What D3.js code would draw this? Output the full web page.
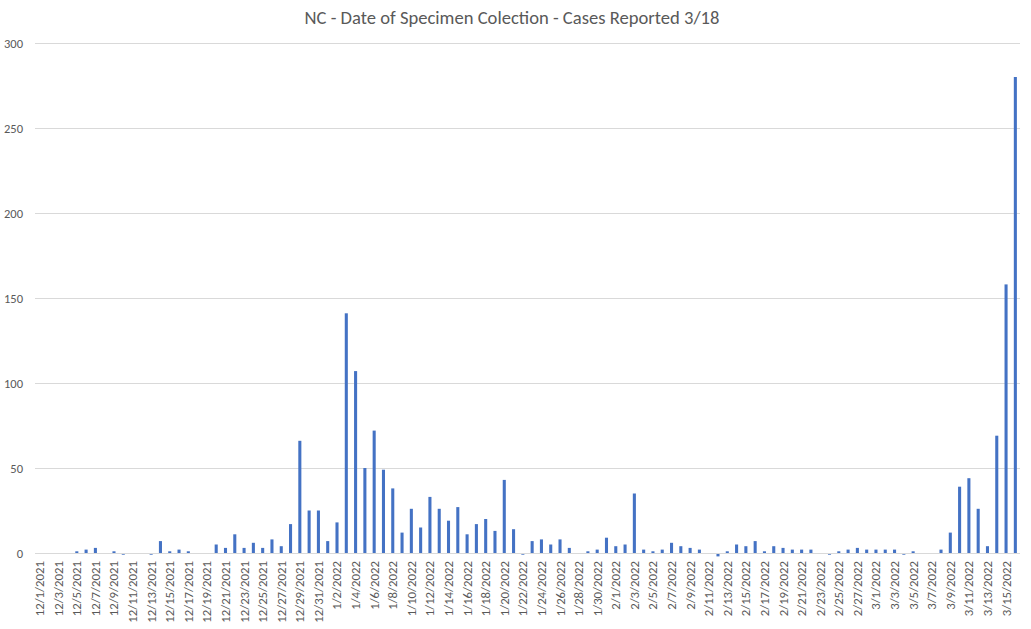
<!DOCTYPE html>
<html>
<head>
<meta charset="utf-8">
<script src="https://cdn.jsdelivr.net/npm/d3@7"></script>
<style>
  body { margin: 0; background: #fff; }
  svg { display: block; }
</style>
</head>
<body>
<svg id="chart" width="1031" height="629"></svg>
<script>
const title = "NC - Date of Specimen Colection - Cases Reported 3/18";

const dates = [
  "12/1/2021","12/2/2021","12/3/2021","12/4/2021","12/5/2021","12/6/2021","12/7/2021","12/8/2021","12/9/2021","12/10/2021",
  "12/11/2021","12/12/2021","12/13/2021","12/14/2021","12/15/2021","12/16/2021","12/17/2021","12/18/2021","12/19/2021","12/20/2021",
  "12/21/2021","12/22/2021","12/23/2021","12/24/2021","12/25/2021","12/26/2021","12/27/2021","12/28/2021","12/29/2021","12/30/2021",
  "12/31/2021",
  "1/1/2022","1/2/2022","1/3/2022","1/4/2022","1/5/2022","1/6/2022","1/7/2022","1/8/2022","1/9/2022","1/10/2022",
  "1/11/2022","1/12/2022","1/13/2022","1/14/2022","1/15/2022","1/16/2022","1/17/2022","1/18/2022","1/19/2022","1/20/2022",
  "1/21/2022","1/22/2022","1/23/2022","1/24/2022","1/25/2022","1/26/2022","1/27/2022","1/28/2022","1/29/2022","1/30/2022",
  "1/31/2022",
  "2/1/2022","2/2/2022","2/3/2022","2/4/2022","2/5/2022","2/6/2022","2/7/2022","2/8/2022","2/9/2022","2/10/2022",
  "2/11/2022","2/12/2022","2/13/2022","2/14/2022","2/15/2022","2/16/2022","2/17/2022","2/18/2022","2/19/2022","2/20/2022",
  "2/21/2022","2/22/2022","2/23/2022","2/24/2022","2/25/2022","2/26/2022","2/27/2022","2/28/2022",
  "3/1/2022","3/2/2022","3/3/2022","3/4/2022","3/5/2022","3/6/2022","3/7/2022","3/8/2022","3/9/2022","3/10/2022",
  "3/11/2022","3/12/2022","3/13/2022","3/14/2022","3/15/2022","3/16/2022"
];

const cases = [
  0,0,0,0,1,2,3,0,1,-1,
  0,0,-1,7,1,2,1,0,0,5,
  3,11,3,6,3,8,4,17,66,25,
  25,
  7,18,141,107,50,72,49,38,12,26,
  15,33,26,19,27,11,17,20,13,43,
  14,-1,7,8,5,8,3,0,1,2,
  9,
  4,5,35,2,1,2,6,4,3,2,
  0,-2,1,5,4,7,1,4,3,2,
  2,2,0,-1,1,2,3,2,
  2,2,2,-1,1,0,0,2,12,39,
  44,26,4,69,158,280
];

const yTicks = [0, 50, 100, 150, 200, 250, 300];

const svg = d3.select("#chart");
const margin = { left: 35, right: 11, top: 43, bottom: 76 };
const W = 1031, H = 629;
const font = "Calibri, Carlito, Lato, 'Open Sans', sans-serif";

const x = d3.scaleBand()
  .domain(dates)
  .range([margin.left, W - margin.right])
  .paddingInner(0.67)
  .paddingOuter(0.335);

const y = d3.scaleLinear()
  .domain([0, 300])
  .range([H - margin.bottom, margin.top]);

// title
svg.append("text")
  .attr("x", 512)
  .attr("y", 24)
  .attr("text-anchor", "middle")
  .attr("font-family", font)
  .attr("font-size", 18.6)
  .attr("fill", "#595959")
  .text(title);

// gridlines
svg.append("g")
  .selectAll("line")
  .data(yTicks.filter(d => d !== 0))
  .join("line")
  .attr("x1", margin.left)
  .attr("x2", W - margin.right)
  .attr("y1", d => Math.round(y(d)) + 0.5)
  .attr("y2", d => Math.round(y(d)) + 0.5)
  .attr("stroke", "#d9d9d9")
  .attr("stroke-width", 1);

// y axis labels
const yAxis = d3.axisLeft(y).tickValues(yTicks).tickSize(0).tickPadding(12);
const gy = svg.append("g")
  .attr("transform", `translate(${margin.left},0)`)
  .call(yAxis);
gy.select(".domain").remove();
gy.selectAll("text")
  .attr("font-family", font)
  .attr("font-size", 12.5)
  .attr("fill", "#595959");

// bars
svg.append("g")
  .selectAll("rect")
  .data(cases)
  .join("rect")
  .attr("x", (d, i) => x(dates[i]))
  .attr("width", x.bandwidth())
  .attr("y", d => y(Math.max(0, d)))
  .attr("height", d => Math.abs(y(d) - y(0)))
  .attr("fill", "#4472C4");

// baseline axis
svg.append("line")
  .attr("x1", margin.left)
  .attr("x2", W - margin.right)
  .attr("y1", Math.round(y(0)) + 0.5)
  .attr("y2", Math.round(y(0)) + 0.5)
  .attr("stroke", "#d9d9d9");

// x axis labels (every other date)
const xAxis = d3.axisBottom(x)
  .tickValues(dates.filter((d, i) => i % 2 === 0))
  .tickSize(0)
  .tickPadding(0);
const gx = svg.append("g")
  .attr("transform", `translate(0,${y(0)})`)
  .call(xAxis);
gx.select(".domain").remove();
gx.selectAll("text")
  .attr("font-family", font)
  .attr("font-size", 12.8)
  .attr("fill", "#595959")
  .attr("text-anchor", "end")
  .attr("dy", "0.35em")
  .attr("transform", "translate(0,8) rotate(-90)")
  .attr("x", 0)
  .attr("y", 0);
</script>
</body>
</html>
